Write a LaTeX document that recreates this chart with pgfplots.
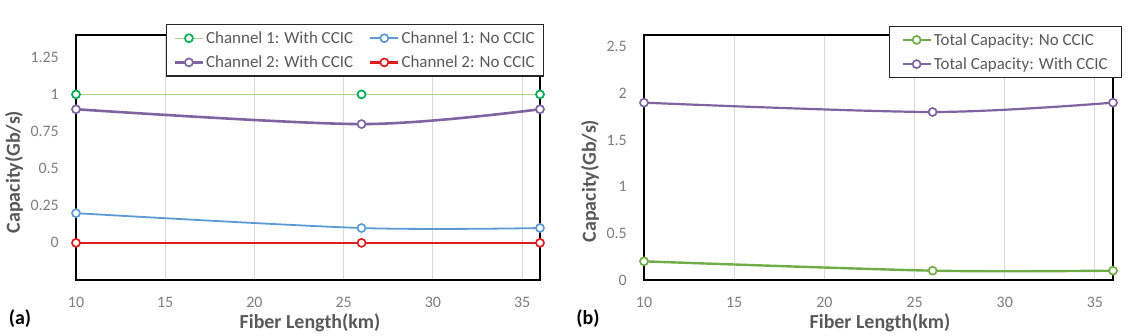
\documentclass[border=0pt]{standalone}
\usepackage{fontspec}
\setmainfont{Carlito}
\usepackage{pgfplots}
\pgfplotsset{compat=1.18}

\definecolor{tickgray}{RGB}{125,125,125}
\definecolor{titlegray}{RGB}{89,89,89}
\definecolor{gridgray}{RGB}{217,217,217}
\definecolor{chgreen}{RGB}{0,176,80}
\definecolor{chgreenline}{RGB}{176,210,140}
\definecolor{chblue}{RGB}{91,155,213}
\definecolor{chpurple}{RGB}{128,100,162}
\definecolor{chred}{RGB}{222,30,30}
\definecolor{totgreen}{RGB}{112,173,71}

\pgfplotsset{
  capacity/.style={
    scale only axis,
    anchor=south west,
    xmin=10, xmax=36,
    xtick={10,15,20,25,30,35},
    xmajorgrids,
    grid style={gridgray, line width=1bp},
    major tick length=0pt,
    axis line style={black, line width=2bp},
    tick label style={font=\fontsize{16}{18}\selectfont, text=tickgray},
    /pgf/number format/assume math mode=true,
    xticklabel style={anchor=center, yshift=-22bp},
    yticklabel style={inner sep=0pt, xshift=-17bp},
    clip=false,
    legend columns=2,
    legend cell align=left,
    legend style={draw=black!85, line width=1.2bp,
      font=\fontsize{17}{20}\selectfont, text=titlegray,
      anchor=north west, inner xsep=7bp, inner ysep=5bp, row sep=7bp,
      /tikz/every even column/.append style={column sep=14bp}},
    legend image code/.code={%
      \draw[mark repeat=2,mark phase=2] plot coordinates {(0bp,0bp) (14bp,0bp) (28bp,0bp)};},
  },
  openmark/.style={mark=*, smooth, mark options={draw=#1, fill=white, line width=1.7bp, solid}, mark size=4bp},
}

\begin{document}
\begin{tikzpicture}
\useasboundingbox (0,0) rectangle (1129bp,336bp);

% ---------- (a) per-channel capacity ----------
\begin{axis}[capacity,
  at={(76bp,56bp)}, width=464bp, height=245bp,
  ymin=-0.25, ymax=1.4,
  ytick={0,0.25,0.5,0.75,1,1.25},
  yticklabels={0,0.25,0.5,0.75,1,1.25},
  legend style={at={(0.194,1.045)}},
]
\addplot[chgreenline, line width=1.3bp, openmark=chgreen]
  coordinates {(10,1) (26,1) (36,1)};
\addlegendentry{Channel 1: With CCIC}
\addplot[chblue, line width=1.8bp, openmark=chblue]
  coordinates {(10,0.2) (26,0.1) (36,0.1)};
\addlegendentry{Channel 1: No CCIC}
\addplot[chpurple, line width=2.6bp, openmark=chpurple]
  coordinates {(10,0.9) (26,0.8) (36,0.9)};
\addlegendentry{Channel 2: With CCIC}
\addplot[chred, line width=2.4bp, openmark=chred]
  coordinates {(10,0) (26,0) (36,0)};
\addlegendentry{Channel 2: No CCIC}
\end{axis}

% ---------- (b) total capacity ----------
\begin{axis}[capacity,
  at={(644bp,56bp)}, width=469bp, height=245bp,
  ymin=0, ymax=2.625,
  ytick={0,0.5,1,1.5,2,2.5},
  yticklabels={0,0.5,1,1.5,2,2.5},
  legend columns=1,
  legend style={at={(0.522,1.038)}, inner xsep=12bp},
]
\addplot[totgreen, line width=2.4bp, openmark=totgreen]
  coordinates {(10,0.2) (26,0.1) (36,0.1)};
\addlegendentry{Total Capacity: No CCIC}
\addplot[chpurple, line width=2.2bp, openmark=chpurple]
  coordinates {(10,1.9) (26,1.8) (36,1.9)};
\addlegendentry{Total Capacity: With CCIC}
\end{axis}

% axis titles and panel tags
\node[rotate=90, font=\fontsize{20}{24}\selectfont\bfseries, text=titlegray] at (14bp,164bp) {Capacity(Gb/s)};
\node[rotate=90, font=\fontsize{20}{24}\selectfont\bfseries, text=titlegray] at (590bp,155bp) {Capacity(Gb/s)};
\node[font=\fontsize{20}{24}\selectfont\bfseries, text=titlegray] at (310bp,13bp) {Fiber Length(km)};
\node[font=\fontsize{20}{24}\selectfont\bfseries, text=titlegray] at (880bp,13bp) {Fiber Length(km)};
\node[font=\fontsize{20}{24}\selectfont\bfseries, text=black] at (20bp,17.5bp) {(a)};
\node[font=\fontsize{20}{24}\selectfont\bfseries, text=black] at (588bp,17.5bp) {(b)};
\end{tikzpicture}
\end{document}
